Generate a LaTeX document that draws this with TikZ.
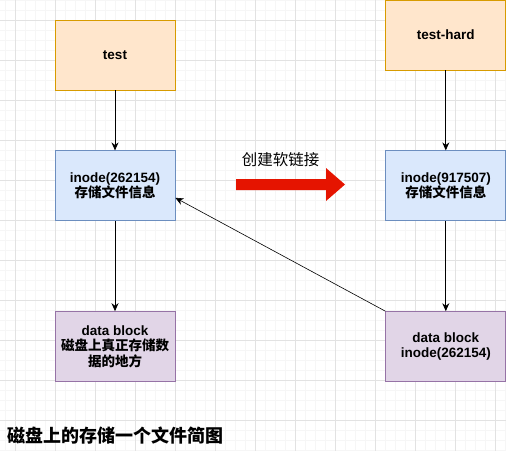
\documentclass[tikz,border=0pt]{standalone}
\usepackage{fontspec}
\setmainfont{Liberation Sans}
\newfontfamily\cjk{Noto Sans CJK SC}
\usetikzlibrary{arrows.meta, positioning}
\definecolor{filefill}{HTML}{FFE6CC}
\definecolor{fileline}{HTML}{D79B00}
\definecolor{inodefill}{HTML}{DAE8FC}
\definecolor{inodeline}{HTML}{6C8EBF}
\definecolor{datafill}{HTML}{E1D5E7}
\definecolor{dataline}{HTML}{9673A6}
\definecolor{linkred}{HTML}{E51400}
\definecolor{gridminor}{HTML}{F6F6F6}
\definecolor{gridmajor}{HTML}{E2E2E2}

\begin{document}
\begin{tikzpicture}[
    x=1pt, y=-1pt,
    box/.style={rectangle, draw, line width=0.8pt, minimum width=120pt, minimum height=70pt, inner sep=0pt, align=center, font=\fontsize{13.5}{15.5}\selectfont\bfseries},
    filebox/.style={box, fill=filefill, draw=fileline},
    inodebox/.style={box, fill=inodefill, draw=inodeline},
    databox/.style={box, fill=datafill, draw=dataline},
    arrow/.style={line width=0.8pt, -{Stealth[length=8pt,width=7pt]}}
]
    \useasboundingbox (0,0) rectangle (506,451);
    % Grid
    \foreach \gx in {5,15,...,505} \draw[gridminor, line width=0.8pt] (\gx,0) -- (\gx,451);
    \foreach \gy in {0,10,...,450} \draw[gridminor, line width=0.8pt] (0,\gy) -- (506,\gy);
    \foreach \gx in {15,55,...,495} \draw[gridmajor, line width=0.8pt] (\gx,0) -- (\gx,451);
    \foreach \gy in {20,60,...,420} \draw[gridmajor, line width=0.8pt] (0,\gy) -- (506,\gy);

    % Nodes
    \node [filebox] (test) at (115,55) {test};
    \node [inodebox, below=60pt of test] (inodeL) {inode(262154)\\{\cjk 存储文件信息}};
    \node [databox, below=90pt of inodeL] (dataL) {data block\\{\cjk 磁盘上真正存储数}\\{\cjk 据的地方}};
    \node [inodebox, right=210pt of inodeL] (inodeR) {inode(917507)\\{\cjk 存储文件信息}};
    \node [filebox, above=80pt of inodeR] (hard) {test-hard};
    \node [databox, below=90pt of inodeR] (dataR) {data block\\inode(262154)};

    % Link label and arrow
    \node [font=\cjk\fontsize{15.5}{18}\selectfont] (linklabel) at (280.5,160) {创建软链接};
    \fill [linkred] (236,179) -- (326,179) -- (326,168) -- (345,184.5) -- (326,201) -- (326,190) -- (236,190) -- cycle;

    % Title
    \node [anchor=west, inner sep=0pt, font=\cjk\bfseries\fontsize{18}{20}\selectfont] (title) at (7,436) {磁盘上的存储一个文件简图};

    % Arrows
    \draw [arrow] (test) -- (inodeL);
    \draw [arrow] (inodeL) -- (dataL);
    \draw [arrow] (hard) -- (inodeR);
    \draw [arrow] (inodeR) -- (dataR);
    \draw [arrow, line width=0.6pt] (dataR.north west) -- ([yshift=-12pt]inodeL.east);
\end{tikzpicture}
\end{document}
